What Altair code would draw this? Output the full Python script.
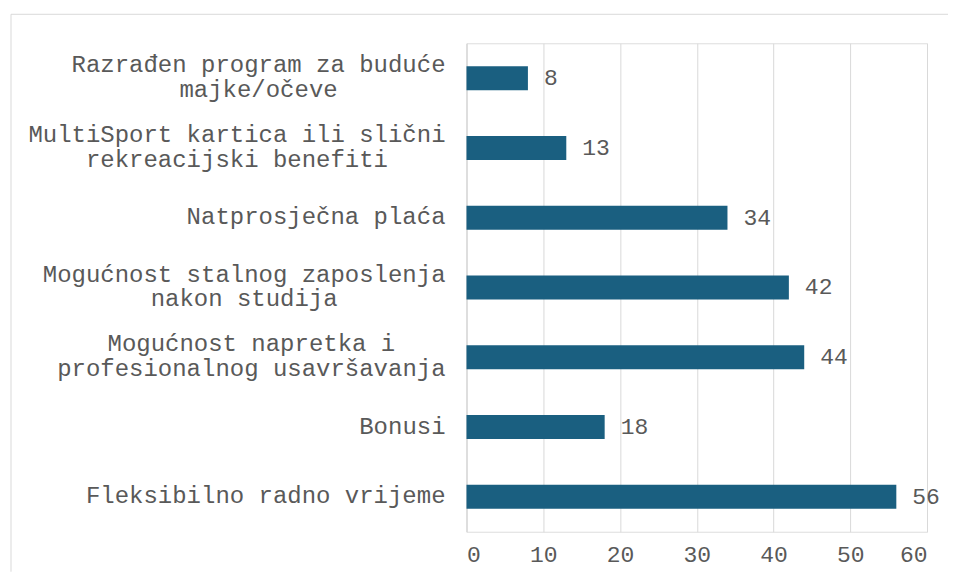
import altair as alt
import pandas as pd

categories = [
    "Razrađen program za buduće|majke/očeve",
    "MultiSport kartica ili slični|rekreacijski benefiti",
    "Natprosječna plaća",
    "Mogućnost stalnog zaposlenja|nakon studija",
    "Mogućnost napretka i|profesionalnog usavršavanja",
    "Bonusi",
    "Fleksibilno radno vrijeme",
]
values = [8, 13, 34, 42, 44, 18, 56]
x_ticks = [0, 10, 20, 30, 40, 50, 60]

df = pd.DataFrame({"cat": categories, "val": values})

FONT = "Courier New, Liberation Mono, monospace"
GREY = "#595959"
LINE = "#d9d9d9"
BAR = "#1a5f80"
LABEL_FS = 24
LINE_H = 25
LABEL_GAP = 21
LABEL_LIFT = 4

W, H = 461, 489
HALF_BAND = H / len(categories) / 2

y_enc = alt.Y(
    "cat:N",
    sort=categories,
    title=None,
    axis=alt.Axis(labels=False, ticks=False, domainColor=LINE, domainWidth=1),
)

base = alt.Chart(df).encode(
    y=y_enc,
    x=alt.X(
        "val:Q",
        title=None,
        scale=alt.Scale(domain=[0, 60], nice=False),
        axis=alt.Axis(
            values=x_ticks,
            labelFont=FONT,
            labelFontSize=23,
            labelColor=GREY,
            labelPadding=12,
            grid=True,
            gridColor=LINE,
            domain=False,
            ticks=False,
        ),
    ),
)

bars = base.mark_bar(color=BAR, size=24)
texts = base.mark_text(
    align="left", baseline="middle", dx=16, font=FONT, fontSize=23, color=GREY
).encode(text="val:Q")

# category labels: right-aligned block, lines centred within the block
labels = (
    alt.Chart(df)
    .transform_calculate(
        lines="split(datum.cat, '|')",
    )
    .transform_calculate(
        maxlen="max(length(datum.lines[0]), length(peek(datum.lines)))",
        nlines="length(datum.lines)",
    )
    .transform_calculate(
        lx=f"-{LABEL_GAP} - {0.3 * LABEL_FS} * datum.maxlen",
        ly=f"{HALF_BAND - LABEL_LIFT} - (datum.nlines - 1) * {LINE_H / 2}",
    )
    .mark_text(
        align="center",
        baseline="middle",
        font=FONT,
        fontSize=LABEL_FS,
        lineHeight=LINE_H,
        color=GREY,
    )
    .encode(
        y=y_enc,
        x=alt.X("lx:Q", scale=None, axis=None),
        yOffset=alt.YOffset("ly:Q", scale=None),
        text=alt.Text("lines:N"),
    )
)

one = pd.DataFrame({"a": [0]})
top_rule = alt.Chart(one).mark_rule(color=LINE, strokeWidth=1).encode(
    x=alt.value(-456), x2=alt.value(482), y=alt.value(-29)
)
left_rule = alt.Chart(one).mark_rule(color=LINE, strokeWidth=1).encode(
    x=alt.value(-456), y=alt.value(-29), y2=alt.value(529)
)

chart = (
    alt.layer(bars, texts, labels, top_rule, left_rule)
    .properties(
        width=W,
        height=H,
        padding={"left": 2, "top": 5, "right": 0, "bottom": 0},
    )
    .configure_view(stroke=None)
    .configure(background="white")
)

chart.save("out.html", embed_options={"renderer": "svg", "actions": False})
